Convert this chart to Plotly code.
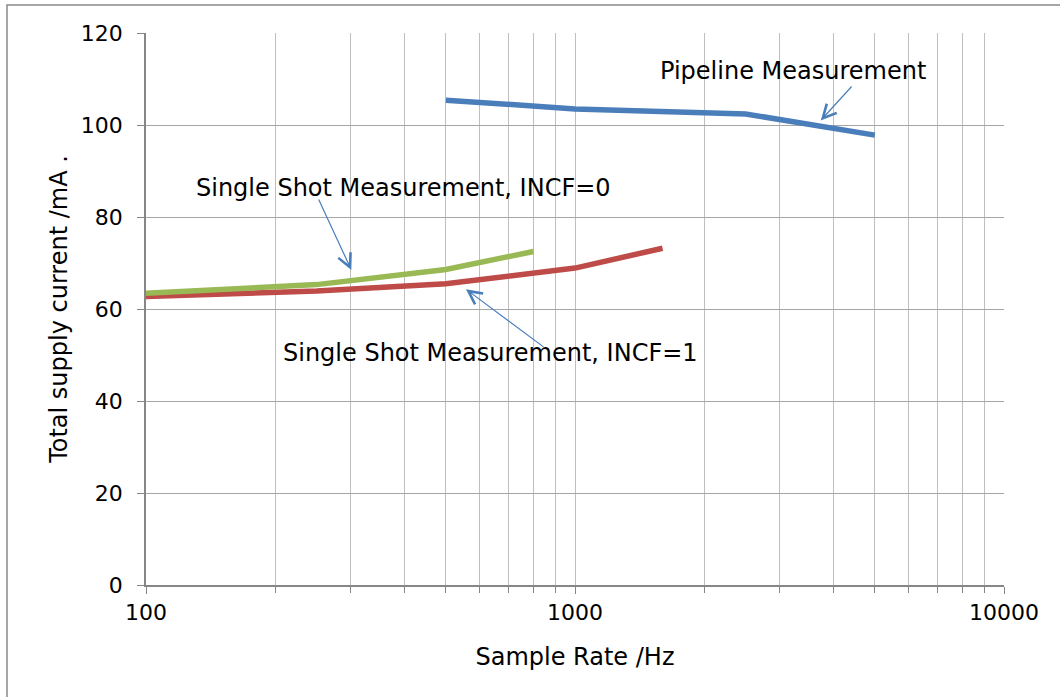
import math
import plotly.graph_objects as go

# Data
pipe_x = [500, 1000, 2500, 5000]
pipe_y = [105.4, 103.5, 102.4, 97.8]
incf0_x = [100, 250, 500, 800]
incf0_y = [63.4, 65.3, 68.6, 72.5]
incf1_x = [100, 250, 500, 1000, 1600]
incf1_y = [62.7, 63.9, 65.5, 68.9, 73.2]

y_ticks = [0, 20, 40, 60, 80, 100, 120]
x_ticks = [100, 1000, 10000]

FONT = "DejaVu Sans"
FS = 22
FS2 = 24
W, H = 1060, 697
PX0, PX1, PY0, PY1 = 146, 1004, 33, 585   # plot area in page pixels
L = PX0
T = PY0
R = W - PX1
B = H - PY1

def px_x(v):
    return PX0 + (math.log10(v) - 2) / 2 * (PX1 - PX0)

def px_y(v):
    return PY0 + (120 - v) / 120 * (PY1 - PY0)

def paper_x(px):
    return (px - PX0) / (PX1 - PX0)

def paper_y(py):
    return 1 - (py - PY0) / (PY1 - PY0)

fig = go.Figure()
fig.add_trace(go.Scatter(x=pipe_x, y=pipe_y, mode="lines",
                         line=dict(color="#4a7ebb", width=5.5), showlegend=False))
fig.add_trace(go.Scatter(x=incf1_x, y=incf1_y, mode="lines",
                         line=dict(color="#be4b48", width=5.5), showlegend=False))
fig.add_trace(go.Scatter(x=incf0_x, y=incf0_y, mode="lines",
                         line=dict(color="#98b954", width=5.5), showlegend=False))

# arrows: (tip x value, tip y value, tail page px, tail page py)
arrows = [(3740, 101, 853, 85), (301, 68.5, 318, 198), (557, 64.3, 545, 348)]
for tx, ty, sx, sy in arrows:
    fig.add_annotation(x=math.log10(tx), y=ty, ax=sx - px_x(tx), ay=sy - px_y(ty),
                       text="", showarrow=True, arrowhead=5, arrowsize=2.2,
                       arrowwidth=1.2, arrowcolor="#4a7ebb")

texts = [("Pipeline Measurement", 793, 71),
         ("Single Shot Measurement, INCF=0", 403, 188),
         ("Single Shot Measurement, INCF=1", 490, 353)]
for t, px, py in texts:
    fig.add_annotation(x=paper_x(px), y=paper_y(py), xref="paper", yref="paper",
                       text=t, showarrow=False, xanchor="center", yanchor="middle",
                       font=dict(family=FONT, size=FS2, color="#000"))

# outer chart border
fig.add_shape(type="rect", xref="paper", yref="paper",
              x0=paper_x(7), x1=paper_x(W + 20),
              y0=paper_y(H + 20), y1=paper_y(5),
              line=dict(color="#898989", width=1.5), fillcolor="rgba(0,0,0,0)")

fig.update_xaxes(type="log", range=[2, 4], tickvals=x_ticks, ticktext=[str(v) for v in x_ticks],
                 showgrid=True, gridcolor="#bfbfbf", gridwidth=1,
                 minor=dict(showgrid=True, gridcolor="#bfbfbf", gridwidth=1,
                            ticks="outside", ticklen=6, tickcolor="#868686",
                            tickvals=[v * d for d in (100, 1000) for v in range(2, 10)]),
                 showline=True, linecolor="#868686", linewidth=1.5,
                 ticks="outside", ticklen=7, tickcolor="#868686",
                 tickfont=dict(family=FONT, size=FS, color="#000"),
                 title=dict(text="Sample Rate /Hz", font=dict(family=FONT, size=FS2, color="#000"),
                            standoff=24),
                 zeroline=False)
fig.update_yaxes(range=[0, 120], tickvals=y_ticks,
                 showgrid=True, gridcolor="#a6a6a6", gridwidth=1,
                 showline=True, linecolor="#868686", linewidth=1.5,
                 ticks="outside", ticklen=7, tickcolor="#868686",
                 ticklabelstandoff=10,
                 tickfont=dict(family=FONT, size=FS, color="#000"),
                 title=dict(text="Total supply current /mA .", font=dict(family=FONT, size=FS2, color="#000"),
                            standoff=6),
                 zeroline=False)

fig.update_layout(width=W, height=H, margin=dict(l=L, r=R, t=T, b=B, autoexpand=False),
                  paper_bgcolor="white", plot_bgcolor="white", showlegend=False)

fig.write_html("out.html", config={"displayModeBar": False},
               post_script="document.body.style.margin='0px';")
